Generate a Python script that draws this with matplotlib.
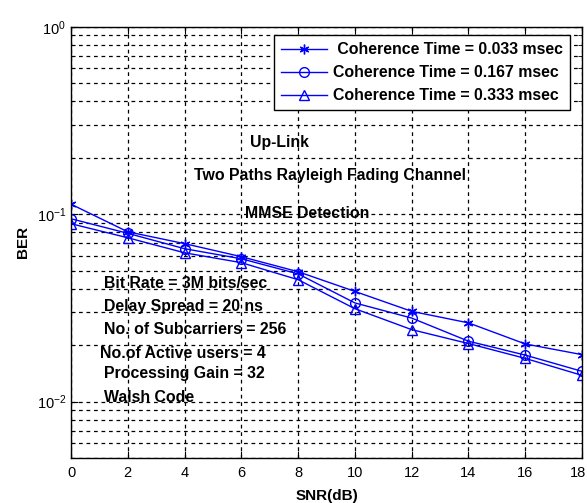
import matplotlib
matplotlib.use("Agg")
import matplotlib.pyplot as plt
from matplotlib.ticker import LogLocator
import matplotlib.transforms as mtransforms
import numpy as np

snr = [0, 2, 4, 6, 8, 10, 12, 14, 16, 18]
ber_033 = [0.113, 0.0805, 0.0696, 0.0593, 0.0493, 0.0387, 0.0303, 0.0263, 0.0203, 0.0178]
ber_167 = [0.0945, 0.079, 0.0654, 0.0578, 0.048, 0.0336, 0.0279, 0.0210, 0.0177, 0.0145]
ber_333 = [0.0889, 0.0748, 0.0622, 0.0551, 0.0447, 0.0313, 0.0242, 0.0204, 0.0170, 0.0138]
labels = [" Coherence Time = 0.033 msec", "Coherence Time = 0.167 msec", "Coherence Time = 0.333 msec"]
xticks = [0, 2, 4, 6, 8, 10, 12, 14, 16, 18]

plt.rcParams['font.family'] = ['Liberation Sans', 'DejaVu Sans']
plt.rcParams['mathtext.default'] = 'regular'

fig = plt.figure(figsize=(5.87, 5.03), dpi=100)
ax = fig.add_axes([71/587, 1 - 458/503, 511/587, (458-26.7)/503])

blue = (0, 0, 1)
asterisk = (6, 2, 0)
ax.plot(snr, ber_033, '-', color=blue, marker=asterisk, ms=7, mew=1, lw=1, label=labels[0])
ax.plot(snr, ber_167, '-', color=blue, marker='o', ms=7, mew=1, lw=1, mfc='none', label=labels[1])
ax.plot(snr, ber_333, '-', color=blue, marker='^', ms=7.5, mew=1, lw=1, mfc='none', label=labels[2])

ax.set_yscale('log')
ax.set_xlim(0, 18)
ax.set_ylim(0.005, 1)
ax.set_xticks(xticks)
ax.yaxis.set_major_locator(LogLocator(base=10, numticks=10))
ax.yaxis.set_minor_locator(LogLocator(base=10, subs=np.arange(2, 10), numticks=20))
ax.grid(True, which='both', axis='y', color='black', linestyle=(0, (3, 3)), lw=0.9)
ax.grid(True, which='major', axis='x', color='black', linestyle=(0, (3, 3)), lw=0.9)
ax.tick_params(which='both', direction='in', top=True, right=True, labelsize=10.5)
ax.tick_params(which='major', length=5)
ax.tick_params(which='minor', length=3)
ax.tick_params(axis='x', pad=6)
for s in ax.spines.values():
    s.set_linewidth(1)

fig.canvas.draw()
last = ax.get_xticklabels()[-1]
last.set_transform(last.get_transform() + mtransforms.ScaledTranslation(-4/100, 0, fig.dpi_scale_trans))

ax.set_xlabel("SNR(dB)", fontsize=11, fontweight='bold', labelpad=6)
ax.set_ylabel("BER", fontsize=11, fontweight='bold', labelpad=5)

tk = dict(fontsize=11.4, fontweight='bold', va='center', ha='left')
ax.text(6.3, 0.240, "Up-Link", **tk)
ax.text(4.33, 0.160, "Two Paths Rayleigh Fading Channel", **tk)
ax.text(6.13, 0.1004, "MMSE Detection", **tk)
ax.text(1.16, 0.0426, "Bit Rate = 3M bits/sec", **tk)
ax.text(1.16, 0.0321, "Delay Spread = 20 ns", **tk)
ax.text(1.16, 0.0242, "No. of Subcarriers = 256", **tk)
ax.text(1.02, 0.0180, "No.of Active users = 4", **tk)
ax.text(1.16, 0.0141, "Processing Gain = 32", **tk)
ax.text(1.16, 0.0105, "Walsh Code", **tk)

leg = ax.legend(loc='upper right', fancybox=False,
                edgecolor='black', framealpha=1, prop={'weight': 'bold', 'size': 11.4},
                handlelength=2.9, labelspacing=0.5, handletextpad=0.35, borderpad=0.45,
                borderaxespad=0)
leg.get_frame().set_linewidth(1)
leg.set_bbox_to_anchor((1 - 12/511, 1 - 8.5/431.6), transform=ax.transAxes)

fig.savefig("out.png", dpi=100, facecolor='white')
